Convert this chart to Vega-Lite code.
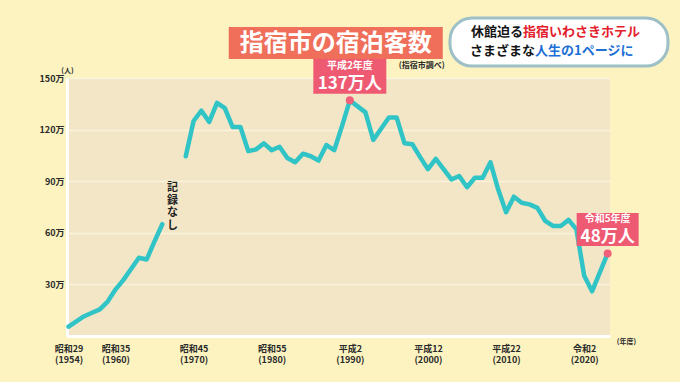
{
  "$schema": "https://vega.github.io/schema/vega-lite/v6.json",
  "width": 543,
  "height": 258,
  "autosize": {"type": "none"},
  "padding": {"left": 67, "top": 78, "right": 70, "bottom": 46},
  "background": "#FCF3C0",
  "config": {
    "view": {"fill": "#F3E6C6", "stroke": null},
    "font": "Noto Sans CJK JP",
    "text": {"font": "Noto Sans CJK JP"}
  },
  "datasets": {
    "visitors": [
      {"year": 1954, "value": 5.4, "seg": "a"},
      {"year": 1955, "value": 8.5, "seg": "a"},
      {"year": 1956, "value": 11.5, "seg": "a"},
      {"year": 1957, "value": 13.5, "seg": "a"},
      {"year": 1958, "value": 15.5, "seg": "a"},
      {"year": 1959, "value": 20, "seg": "a"},
      {"year": 1960, "value": 27, "seg": "a"},
      {"year": 1961, "value": 32.5, "seg": "a"},
      {"year": 1962, "value": 39, "seg": "a"},
      {"year": 1963, "value": 45.5, "seg": "a"},
      {"year": 1964, "value": 44.5, "seg": "a"},
      {"year": 1965, "value": 55, "seg": "a"},
      {"year": 1966, "value": 65, "seg": "a"},
      {"year": 1969, "value": 104.5, "seg": "b"},
      {"year": 1970, "value": 125, "seg": "b"},
      {"year": 1971, "value": 131, "seg": "b"},
      {"year": 1972, "value": 124.5, "seg": "b"},
      {"year": 1973, "value": 135.5, "seg": "b"},
      {"year": 1974, "value": 132.5, "seg": "b"},
      {"year": 1975, "value": 121.5, "seg": "b"},
      {"year": 1976, "value": 121.5, "seg": "b"},
      {"year": 1977, "value": 107.5, "seg": "b"},
      {"year": 1978, "value": 108.5, "seg": "b"},
      {"year": 1979, "value": 112, "seg": "b"},
      {"year": 1980, "value": 108, "seg": "b"},
      {"year": 1981, "value": 110, "seg": "b"},
      {"year": 1982, "value": 103.5, "seg": "b"},
      {"year": 1983, "value": 101, "seg": "b"},
      {"year": 1984, "value": 106, "seg": "b"},
      {"year": 1985, "value": 104.5, "seg": "b"},
      {"year": 1986, "value": 102, "seg": "b"},
      {"year": 1987, "value": 111, "seg": "b"},
      {"year": 1988, "value": 108, "seg": "b"},
      {"year": 1989, "value": 122, "seg": "b"},
      {"year": 1990, "value": 137, "seg": "b"},
      {"year": 1991, "value": 133.5, "seg": "b"},
      {"year": 1992, "value": 130, "seg": "b"},
      {"year": 1993, "value": 114, "seg": "b"},
      {"year": 1994, "value": 120.5, "seg": "b"},
      {"year": 1995, "value": 127, "seg": "b"},
      {"year": 1996, "value": 127, "seg": "b"},
      {"year": 1997, "value": 112, "seg": "b"},
      {"year": 1998, "value": 111.5, "seg": "b"},
      {"year": 1999, "value": 104, "seg": "b"},
      {"year": 2000, "value": 97, "seg": "b"},
      {"year": 2001, "value": 103, "seg": "b"},
      {"year": 2002, "value": 97, "seg": "b"},
      {"year": 2003, "value": 91, "seg": "b"},
      {"year": 2004, "value": 93, "seg": "b"},
      {"year": 2005, "value": 86.5, "seg": "b"},
      {"year": 2006, "value": 92, "seg": "b"},
      {"year": 2007, "value": 92, "seg": "b"},
      {"year": 2008, "value": 101, "seg": "b"},
      {"year": 2009, "value": 85, "seg": "b"},
      {"year": 2010, "value": 72, "seg": "b"},
      {"year": 2011, "value": 81, "seg": "b"},
      {"year": 2012, "value": 77.5, "seg": "b"},
      {"year": 2013, "value": 76.5, "seg": "b"},
      {"year": 2014, "value": 74.5, "seg": "b"},
      {"year": 2015, "value": 67, "seg": "b"},
      {"year": 2016, "value": 64, "seg": "b"},
      {"year": 2017, "value": 64, "seg": "b"},
      {"year": 2018, "value": 67.5, "seg": "b"},
      {"year": 2019, "value": 62, "seg": "b"},
      {"year": 2020, "value": 35, "seg": "b"},
      {"year": 2021, "value": 26, "seg": "b"},
      {"year": 2022, "value": 37, "seg": "b"},
      {"year": 2023, "value": 48, "seg": "b"}
    ],
    "notes": [
      {"year": 1990, "value": 137, "era": "平成2年度", "count": "137万人"},
      {"year": 2023, "value": 48, "era": "令和5年度", "count": "48万人"}
    ]
  },
  "layer": [
    {
      "data": {"name": "visitors"},
      "mark": {"type": "line", "color": "#30C4C6", "strokeWidth": 4.5, "strokeJoin": "round", "strokeCap": "round"},
      "encoding": {
        "x": {
          "field": "year", "type": "quantitative",
          "scale": {"domain": [1953.8, 2023.3], "nice": false, "zero": false},
          "axis": {
            "values": [1954, 1960, 1970, 1980, 1990, 2000, 2010, 2020],
            "labelExpr": "datum.value < 1989 ? ['昭和' + (datum.value - 1925), '(' + datum.value + ')'] : datum.value < 2019 ? ['平成' + (datum.value - 1988), '(' + datum.value + ')'] : ['令和' + (datum.value - 2018), '(' + datum.value + ')']",
            "grid": false, "ticks": false,
            "domainColor": "#FFFFFF", "domainWidth": 3,
            "labelFontSize": 9, "labelFontWeight": "bold", "labelColor": "#2A2A2A",
            "labelLineHeight": 11.5, "labelPadding": 8, "labelOverlap": false, "labelFlush": false,
            "labelFont": "Noto Sans CJK JP",
            "title": "(年度)", "titleFontSize": 7, "titleFontWeight": "bold", "titleColor": "#2A2A2A",
            "titleX": 559, "titleY": 5.5, "titleBaseline": "middle", "titleAlign": "center",
            "titleFont": "Noto Sans CJK JP"
          }
        },
        "y": {
          "field": "value", "type": "quantitative",
          "scale": {"domain": [0, 150], "nice": false},
          "axis": {
            "values": [30, 60, 90, 120, 150],
            "labelExpr": "datum.value + '万'",
            "grid": true, "gridColor": "#FBF3DE", "gridWidth": 1.5,
            "ticks": false,
            "domainColor": "#FFFFFF", "domainWidth": 3,
            "labelFontSize": 9, "labelFontWeight": "bold", "labelColor": "#2A2A2A",
            "labelPadding": 3, "labelFont": "Noto Sans CJK JP",
            "title": "(人)", "titleAngle": 0, "titleFontSize": 7, "titleFontWeight": "bold", "titleColor": "#2A2A2A",
            "titleX": 0, "titleY": -8, "titleAlign": "center", "titleBaseline": "middle",
            "titleFont": "Noto Sans CJK JP"
          }
        },
        "detail": {"field": "seg"}
      }
    },
    {
      "data": {"name": "notes"},
      "mark": {"type": "point", "filled": true, "shape": "circle", "size": 64, "color": "#F0607A", "opacity": 1},
      "encoding": {
        "x": {"field": "year", "type": "quantitative", "scale": {"domain": [1953.8, 2023.3], "nice": false, "zero": false}},
        "y": {"field": "value", "type": "quantitative", "scale": {"domain": [0, 150], "nice": false}}
      }
    },
    {
      "data": {"name": "notes"},
      "transform": [{"filter": "datum.year == 1990"}],
      "mark": {"type": "point", "filled": true, "shape": "M-0.73,-0.35L0.73,-0.35L0.73,0.35L-0.73,0.35Z", "size": 10000, "color": "#EF5A73", "opacity": 1, "yOffset": -24},
      "encoding": {
        "x": {"field": "year", "type": "quantitative", "scale": {"domain": [1953.8, 2023.3], "nice": false, "zero": false}},
        "y": {"field": "value", "type": "quantitative", "scale": {"domain": [0, 150], "nice": false}}
      }
    },
    {
      "data": {"name": "notes"},
      "transform": [{"filter": "datum.year == 2023"}],
      "mark": {"type": "point", "filled": true, "shape": "M-0.62,-0.33L0.62,-0.33L0.62,0.33L-0.62,0.33Z", "size": 10000, "color": "#EF5A73", "opacity": 1, "yOffset": -24},
      "encoding": {
        "x": {"field": "year", "type": "quantitative", "scale": {"domain": [1953.8, 2023.3], "nice": false, "zero": false}},
        "y": {"field": "value", "type": "quantitative", "scale": {"domain": [0, 150], "nice": false}}
      }
    },
    {
      "data": {"name": "notes"},
      "mark": {"type": "text", "color": "#FFFFFF", "fontSize": 10, "fontWeight": "bold", "dy": -34.5, "baseline": "middle", "align": "center"},
      "encoding": {
        "x": {"field": "year", "type": "quantitative", "scale": {"domain": [1953.8, 2023.3], "nice": false, "zero": false}},
        "y": {"field": "value", "type": "quantitative", "scale": {"domain": [0, 150], "nice": false}},
        "text": {"field": "era"}
      }
    },
    {
      "data": {"name": "notes"},
      "mark": {"type": "text", "color": "#FFFFFF", "fontSize": 17, "fontWeight": "bold", "dy": -16.5, "baseline": "middle", "align": "center"},
      "encoding": {
        "x": {"field": "year", "type": "quantitative", "scale": {"domain": [1953.8, 2023.3], "nice": false, "zero": false}},
        "y": {"field": "value", "type": "quantitative", "scale": {"domain": [0, 150], "nice": false}},
        "text": {"field": "count"}
      }
    },
    {
      "data": {"values": [{}]},
      "mark": {"type": "point", "filled": true, "shape": "M-1.07,-0.16L1.07,-0.16L1.07,0.16L-1.07,0.16Z", "size": 40000, "color": "#EF6F5B", "opacity": 1},
      "encoding": {
        "x": {"datum": 1988.2, "type": "quantitative", "scale": {"domain": [1953.8, 2023.3], "nice": false, "zero": false}},
        "y": {"datum": 170.4, "type": "quantitative", "scale": {"domain": [0, 150], "nice": false}}
      }
    },
    {
      "data": {"values": [{}]},
      "mark": {"type": "text", "color": "#FFFFFF", "fontSize": 24, "fontWeight": "bold", "baseline": "middle", "align": "center"},
      "encoding": {
        "x": {"datum": 1988.2, "type": "quantitative", "scale": {"domain": [1953.8, 2023.3], "nice": false, "zero": false}},
        "y": {"datum": 170, "type": "quantitative", "scale": {"domain": [0, 150], "nice": false}},
        "text": {"value": "指宿市の宿泊客数"}
      }
    },
    {
      "data": {"values": [{}]},
      "mark": {"type": "text", "color": "#2A2A2A", "fontSize": 8, "fontWeight": "bold", "baseline": "middle", "align": "center"},
      "encoding": {
        "x": {"datum": 1999.2, "type": "quantitative", "scale": {"domain": [1953.8, 2023.3], "nice": false, "zero": false}},
        "y": {"datum": 157, "type": "quantitative", "scale": {"domain": [0, 150], "nice": false}},
        "text": {"value": "(指宿市調べ)"}
      }
    },
    {
      "data": {"values": [{}]},
      "mark": {"type": "text", "color": "#222222", "fontSize": 11, "fontWeight": "bold", "baseline": "middle", "align": "center", "lineHeight": 12.5},
      "encoding": {
        "x": {"datum": 1967.3, "type": "quantitative", "scale": {"domain": [1953.8, 2023.3], "nice": false, "zero": false}},
        "y": {"datum": 86, "type": "quantitative", "scale": {"domain": [0, 150], "nice": false}},
        "text": {"value": ["記", "録", "な", "し"]}
      }
    },
    {
      "data": {"values": [{}]},
      "mark": {"type": "point", "filled": false, "shape": "M-0.87,-0.24L0.87,-0.24A0.22,0.22 0 0 1 1.09,-0.02L1.09,0.02A0.22,0.22 0 0 1 0.87,0.24L-0.87,0.24A0.22,0.22 0 0 1 -1.09,0.02L-1.09,-0.02A0.22,0.22 0 0 1 -0.87,-0.24Z", "size": 40000, "fill": "#FFFFFF", "fillOpacity": 1, "stroke": "#9DBFC6", "strokeWidth": 3, "opacity": 1},
      "encoding": {
        "x": {"datum": 2016.77, "type": "quantitative", "scale": {"domain": [1953.8, 2023.3], "nice": false, "zero": false}},
        "y": {"datum": 170.9, "type": "quantitative", "scale": {"domain": [0, 150], "nice": false}}
      }
    },
    {
      "data": {"values": [{}]},
      "mark": {"type": "text", "color": "#151515", "fontSize": 13, "fontWeight": "bold", "baseline": "middle", "align": "right"},
      "encoding": {
        "x": {"datum": 2012.16, "type": "quantitative", "scale": {"domain": [1953.8, 2023.3], "nice": false, "zero": false}},
        "y": {"datum": 176.9, "type": "quantitative", "scale": {"domain": [0, 150], "nice": false}},
        "text": {"value": "休館迫る"}
      }
    },
    {
      "data": {"values": [{}]},
      "mark": {"type": "text", "color": "#E3202B", "fontSize": 13, "fontWeight": "bold", "baseline": "middle", "align": "left"},
      "encoding": {
        "x": {"datum": 2012.16, "type": "quantitative", "scale": {"domain": [1953.8, 2023.3], "nice": false, "zero": false}},
        "y": {"datum": 176.9, "type": "quantitative", "scale": {"domain": [0, 150], "nice": false}},
        "text": {"value": "指宿いわさきホテル"}
      }
    },
    {
      "data": {"values": [{}]},
      "mark": {"type": "text", "color": "#151515", "fontSize": 13, "fontWeight": "bold", "baseline": "middle", "align": "right"},
      "encoding": {
        "x": {"datum": 2013.7, "type": "quantitative", "scale": {"domain": [1953.8, 2023.3], "nice": false, "zero": false}},
        "y": {"datum": 165.9, "type": "quantitative", "scale": {"domain": [0, 150], "nice": false}},
        "text": {"value": "さまざまな"}
      }
    },
    {
      "data": {"values": [{}]},
      "mark": {"type": "text", "color": "#1C6FD6", "fontSize": 13, "fontWeight": "bold", "baseline": "middle", "align": "left"},
      "encoding": {
        "x": {"datum": 2013.7, "type": "quantitative", "scale": {"domain": [1953.8, 2023.3], "nice": false, "zero": false}},
        "y": {"datum": 165.9, "type": "quantitative", "scale": {"domain": [0, 150], "nice": false}},
        "text": {"value": "人生の1ページに"}
      }
    }
  ]
}
